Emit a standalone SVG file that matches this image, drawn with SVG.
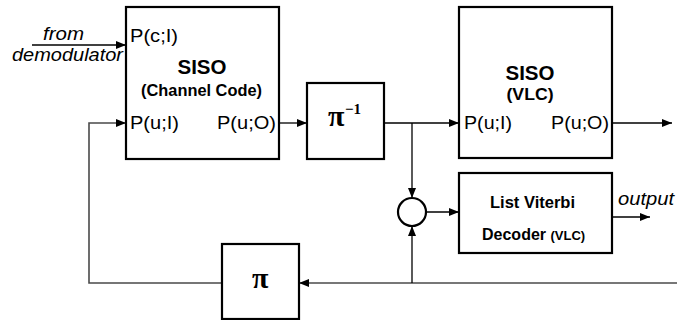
<svg xmlns="http://www.w3.org/2000/svg" width="677" height="320" viewBox="0 0 677 320">
<defs>
<marker id="ah" markerUnits="userSpaceOnUse" markerWidth="10" markerHeight="8" viewBox="0 0 10 8" refX="10" refY="4" orient="auto">
<path d="M0,0 L10,4 L0,8 Z" fill="#000"/>
</marker>
</defs>
<style>
.box{fill:#fff;stroke:#000;stroke-width:2.2}
.ln{fill:none;stroke:#000;stroke-width:1.3}
.fb{fill:none;stroke:#4a4a4a;stroke-width:1.6}
.t{font-family:"Liberation Sans",Arial,sans-serif;fill:#000}
.r{font-size:19px}
.b{font-size:21px;font-weight:bold}
.bs{font-size:16px;font-weight:bold}
.i{font-size:19px;font-style:italic}
.pi{font-family:"Liberation Serif","Times New Roman",serif;fill:#000;font-weight:bold}
</style>
<g id="connectors">
<line class="ln" x1="32" y1="45" x2="126" y2="45" marker-end="url(#ah)"/>
<polyline class="fb" points="222,283 89,283 89,123 126,123" marker-end="url(#ah)"/>
<line class="ln" x1="279" y1="123" x2="307" y2="123" marker-end="url(#ah)"/>
<line class="ln" x1="384" y1="123" x2="459" y2="123" marker-end="url(#ah)"/>
<line class="ln" x1="412" y1="123" x2="412" y2="198" marker-end="url(#ah)"/>
<line class="ln" x1="612" y1="123" x2="672" y2="123" marker-end="url(#ah)"/>
<line class="fb" x1="677" y1="283" x2="299" y2="283" marker-end="url(#ah)"/>
<line class="ln" x1="412" y1="283" x2="412" y2="226" marker-end="url(#ah)"/>
<line class="ln" x1="426" y1="212" x2="459" y2="212" marker-end="url(#ah)"/>
<line class="ln" x1="612" y1="217" x2="650" y2="217" marker-end="url(#ah)"/>
</g>
<g id="input-label">
<text class="t i" x="43" y="40" textLength="41" lengthAdjust="spacingAndGlyphs">from</text>
<text class="t i" x="12" y="61" textLength="111" lengthAdjust="spacingAndGlyphs">demodulator</text>
</g>
<g id="siso-channel">
<rect class="box" x="126" y="7" width="153" height="152"/>
<text class="t r" x="130" y="42" textLength="48" lengthAdjust="spacingAndGlyphs">P(c;I)</text>
<text class="t b" x="202" y="74" text-anchor="middle" textLength="49" lengthAdjust="spacingAndGlyphs">SISO</text>
<text class="t bs" x="201.5" y="96" text-anchor="middle" textLength="121" lengthAdjust="spacingAndGlyphs">(Channel Code)</text>
<text class="t r" x="130" y="129" textLength="49" lengthAdjust="spacingAndGlyphs">P(u;I)</text>
<text class="t r" x="217" y="129" textLength="59" lengthAdjust="spacingAndGlyphs">P(u;O)</text>
</g>
<g id="deinterleaver">
<rect class="box" x="307" y="83" width="77" height="76"/>
<text class="pi" x="328" y="126" font-size="30">π</text>
<text class="pi" x="345" y="114" font-size="15" font-weight="normal">−1</text>
</g>
<g id="siso-vlc">
<rect class="box" x="459" y="7" width="153" height="151"/>
<text class="t b" x="530" y="80" text-anchor="middle" textLength="49" lengthAdjust="spacingAndGlyphs">SISO</text>
<text class="t bs" x="530" y="100" text-anchor="middle" textLength="47" lengthAdjust="spacingAndGlyphs">(VLC)</text>
<text class="t r" x="464" y="129" textLength="48" lengthAdjust="spacingAndGlyphs">P(u;I)</text>
<text class="t r" x="551" y="129" textLength="58" lengthAdjust="spacingAndGlyphs">P(u;O)</text>
</g>
<g id="combiner">
<circle cx="412" cy="212" r="14" fill="#fff" stroke="#000" stroke-width="2.2"/>
</g>
<g id="list-viterbi">
<rect class="box" x="459" y="173" width="153" height="80"/>
<text class="t bs" x="532.5" y="208" text-anchor="middle" textLength="85" lengthAdjust="spacingAndGlyphs">List Viterbi</text>
<text class="t bs" x="482" y="240">Decoder <tspan font-size="13">(VLC)</tspan></text>
</g>
<g id="output-label">
<text class="t i" x="618" y="205" textLength="56" lengthAdjust="spacingAndGlyphs">output</text>
</g>
<g id="interleaver">
<rect class="box" x="222" y="244" width="77" height="75"/>
<text class="pi" x="252" y="288" font-size="30">π</text>
</g>
</svg>
